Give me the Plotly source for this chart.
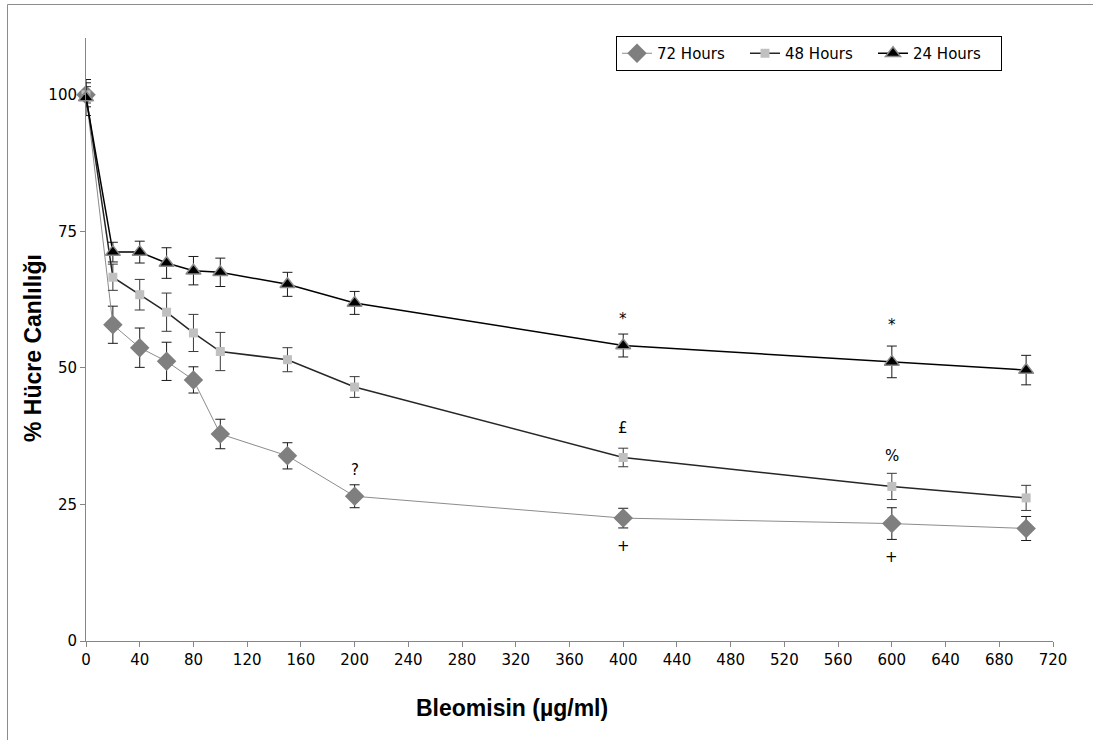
import plotly.graph_objects as go

# ---- data ----
dose = [0, 20, 40, 60, 80, 100, 150, 200, 400, 600, 700]
h72 = [100, 57.9, 53.7, 51.2, 47.8, 37.9, 33.9, 26.5, 22.5, 21.5, 20.6]
h72_err = [2.2, 3.4, 3.6, 3.5, 2.4, 2.7, 2.4, 2.1, 1.8, 2.9, 2.2]
h48 = [100, 66.6, 63.4, 60.2, 56.4, 53.0, 51.5, 46.5, 33.6, 28.3, 26.2]
h48_err = [1.5, 2.4, 2.8, 3.5, 3.4, 3.5, 2.2, 1.9, 1.7, 2.4, 2.3]
h24 = [99.5, 71.2, 71.2, 69.2, 67.8, 67.5, 65.3, 61.9, 54.1, 51.1, 49.6]
h24_err = [3.3, 1.8, 2.0, 2.8, 2.6, 2.6, 2.2, 2.1, 2.1, 2.9, 2.7]

series_names = ["72 Hours", "48 Hours", "24 Hours"]

mark_x = [400, 600, 400, 600, 200, 400, 600]
mark_y = [59.0, 57.9, 39.0, 33.8, 31.3, 17.4, 15.4]
mark_text = ["*", "*", "£", "%", "?", "+", "+"]

x_ticks = list(range(0, 721, 40))
y_ticks = [0, 25, 50, 75, 100]

x_title = "Bleomisin (µg/ml)"
y_title = "% Hücre Canlılığı"

# ---- figure ----
W, H = 1093, 740
ML, MR, MT, MB = 86, 40, 38, 99
pw = W - ML - MR
ph = H - MT - MB

TICKFONT = dict(family="DejaVu Sans", size=15, color="#000")
TITLEFONT = dict(family="Liberation Sans", size=23, color="#000")

fig = go.Figure()

fig.add_trace(go.Scatter(
    x=dose, y=h72, name=series_names[0], mode="lines+markers", cliponaxis=False,
    line=dict(color="#8c8c8c", width=1),
    marker=dict(symbol="diamond", size=15, color="#7f7f7f",
                line=dict(color="#7f7f7f", width=0)),
    error_y=dict(type="data", array=h72_err, visible=True,
                 color="#1a1a1a", thickness=1, width=5),
))
fig.add_trace(go.Scatter(
    x=dose, y=h48, name=series_names[1], mode="lines+markers", cliponaxis=False,
    line=dict(color="#262626", width=1.5),
    marker=dict(symbol="square", size=9, color="#c0c0c0",
                line=dict(color="#c0c0c0", width=0)),
    error_y=dict(type="data", array=h48_err, visible=True,
                 color="#3a3a3a", thickness=1, width=5),
))
fig.add_trace(go.Scatter(
    x=dose, y=h24, name=series_names[2], mode="lines+markers", cliponaxis=False,
    line=dict(color="#000000", width=1.5),
    marker=dict(symbol="triangle-up", size=13, color="#000000",
                line=dict(color="#8a8a8a", width=1.5)),
    error_y=dict(type="data", array=h24_err, visible=True,
                 color="#1a1a1a", thickness=1, width=5),
))

annotations = []
for xv, yv, t in zip(mark_x, mark_y, mark_text):
    annotations.append(dict(x=xv, y=yv, xref="x", yref="y", text=t,
                            showarrow=False,
                            font=dict(family="DejaVu Sans", size=15, color="#000")))

annotations.append(dict(x=(512 - ML) / pw, y=((H - MB) - 708) / ph,
                        xref="paper", yref="paper", text="<b>" + x_title + "</b>",
                        showarrow=False, font=TITLEFONT,
                        xanchor="center", yanchor="middle"))
annotations.append(dict(x=(33 - ML) / pw, y=((H - MB) - 348) / ph,
                        xref="paper", yref="paper", text="<b>" + y_title + "</b>",
                        showarrow=False, textangle=-90, font=TITLEFONT,
                        xanchor="center", yanchor="middle"))

shapes = [
    dict(type="line", xref="paper", yref="paper",
         x0=(7.5 - ML) / pw, x1=(7.5 - ML) / pw,
         y0=((H - MB) - 4.5) / ph, y1=((H - MB) - 760) / ph,
         line=dict(color="#8c8c8c", width=1)),
    dict(type="line", xref="paper", yref="paper",
         x0=(7.5 - ML) / pw, x1=(1110 - ML) / pw,
         y0=((H - MB) - 4.5) / ph, y1=((H - MB) - 4.5) / ph,
         line=dict(color="#8c8c8c", width=1)),
]

fig.update_layout(
    width=W, height=H,
    margin=dict(l=ML, r=MR, t=MT, b=MB, autoexpand=False),
    paper_bgcolor="white", plot_bgcolor="white",
    font=dict(family="DejaVu Sans", size=15, color="#000"),
    showlegend=True,
    legend=dict(orientation="h", x=(616 - ML) / pw, y=((H - MB) - 36) / ph,
                xanchor="left", yanchor="top",
                bordercolor="#000", borderwidth=1, bgcolor="white",
                font=dict(family="DejaVu Sans", size=15, color="#000"),
                entrywidth=83, entrywidthmode="pixels",
                traceorder="normal"),
    annotations=annotations,
    shapes=shapes,
)

fig.update_xaxes(range=[0, 720], tickvals=x_ticks, ticktext=[str(v) for v in x_ticks],
                 showgrid=False, zeroline=False, showline=True, linecolor="#868686",
                 linewidth=1, ticks="outside", ticklen=5, tickcolor="#868686",
                 tickfont=TICKFONT)
fig.update_yaxes(range=[0, 110.4], tickvals=y_ticks, ticktext=[str(v) for v in y_ticks],
                 showgrid=False, zeroline=False, showline=True, linecolor="#868686",
                 linewidth=1, ticks="outside", ticklen=5, tickcolor="#868686",
                 tickfont=TICKFONT)

fig.write_html("out.html", config={"displayModeBar": False},
               post_script="document.body.style.margin='0';document.body.style.padding='0';")
